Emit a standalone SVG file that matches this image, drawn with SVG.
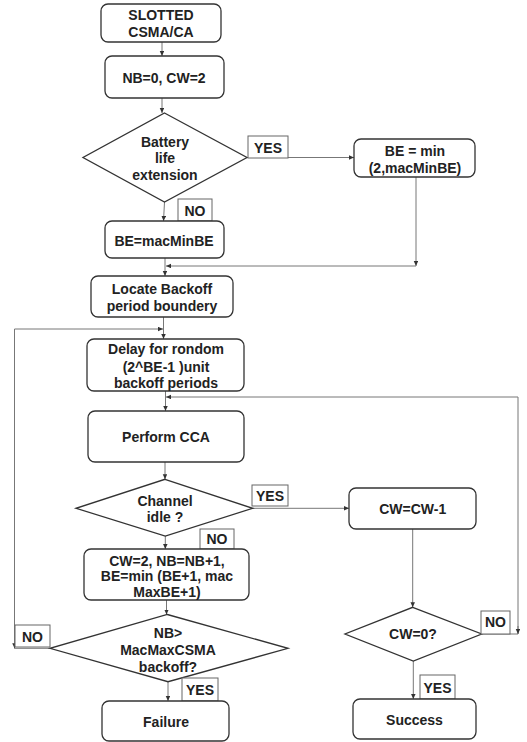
<svg xmlns="http://www.w3.org/2000/svg" width="527" height="742" viewBox="0 0 527 742">
<defs>
<style>
.box{fill:#fff;stroke:#333;stroke-width:1.3}
.lbl{fill:#fff;stroke:#666;stroke-width:1}
.dia{fill:#fff;stroke:#333;stroke-width:1.3}
.conn{fill:none;stroke:#777;stroke-width:1}
text{font-family:"Liberation Sans",Arial,sans-serif;font-weight:bold;font-size:14px;fill:#222;text-anchor:middle}
</style>
<marker id="ah" markerUnits="userSpaceOnUse" markerWidth="6" markerHeight="5" refX="5" refY="2.25" orient="auto">
<path d="M0,0 L5,2.25 L0,4.5 z" fill="#333"/>
</marker>
</defs>
<rect width="527" height="742" fill="#fff"/>
<g id="connectors">
<path class="conn" d="M162,42 V56" marker-end="url(#ah)"/>
<path class="conn" d="M162,98 V113" marker-end="url(#ah)"/>
<path class="conn" d="M247,157.5 H354" marker-end="url(#ah)"/>
<path class="conn" d="M416,177 V266" marker-end="url(#ah)"/>
<path class="conn" d="M416,266 H166" marker-end="url(#ah)"/>
<path class="conn" d="M164.5,202 L163.5,221" marker-end="url(#ah)"/>
<path class="conn" d="M165,258 V276" marker-end="url(#ah)"/>
<path class="conn" d="M163.5,317 V339" marker-end="url(#ah)"/>
<path class="conn" d="M50,648.3 H14.5 V329 H163" marker-end="url(#ah)"/>
<path class="conn" d="M14.5,640 V648.3" marker-end="url(#ah)"/>
<path class="conn" d="M165.5,391 V411" marker-end="url(#ah)"/>
<path class="conn" d="M481.7,634 H518 V397 H166" marker-end="url(#ah)"/>
<path class="conn" d="M518,626 V634" marker-end="url(#ah)"/>
<path class="conn" d="M165,462 V479.3" marker-end="url(#ah)"/>
<path class="conn" d="M252.7,508.3 H349" marker-end="url(#ah)"/>
<path class="conn" d="M165.3,536 V549" marker-end="url(#ah)"/>
<path class="conn" d="M166.5,600 V614.5" marker-end="url(#ah)"/>
<path class="conn" d="M168,681.7 V701" marker-end="url(#ah)"/>
<path class="conn" d="M412.7,529 V607.3" marker-end="url(#ah)"/>
<path class="conn" d="M413.3,661 V699" marker-end="url(#ah)"/>
</g>
<g id="start">
<rect class="box" x="101" y="4" width="120" height="38" rx="7"/>
<text x="161" y="20">SLOTTED</text>
<text x="161" y="37">CSMA/CA</text>
</g>
<g id="init">
<rect class="box" x="105" y="56" width="119" height="42" rx="7"/>
<text x="164" y="82.5">NB=0, CW=2</text>
</g>
<g id="battery">
<polygon class="dia" points="164.5,113 247,157.5 164.5,202 83,157.5"/>
<text x="165" y="146.5">Battery</text>
<text x="165" y="163">life</text>
<text x="165" y="180">extension</text>
</g>
<g id="yes1">
<rect class="lbl" x="248" y="136" width="40" height="22"/>
<text x="268" y="152.5">YES</text>
</g>
<g id="bemin">
<rect class="box" x="354" y="139" width="121" height="38" rx="7"/>
<text x="415" y="155.5">BE = min</text>
<text x="415" y="173">(2,macMinBE)</text>
</g>
<g id="no1">
<rect class="lbl" x="178" y="199" width="34" height="22"/>
<text x="195" y="215.5">NO</text>
</g>
<g id="bemac">
<rect class="box" x="105" y="221" width="119" height="37" rx="7"/>
<text x="164" y="245.5">BE=macMinBE</text>
</g>
<g id="locate">
<rect class="box" x="91" y="276" width="142" height="41" rx="7"/>
<text x="162" y="294">Locate Backoff</text>
<text x="162" y="311">period boundery</text>
</g>
<g id="delay">
<rect class="box" x="87" y="339" width="157" height="52" rx="7"/>
<text x="166" y="354">Delay for rondom</text>
<text x="166" y="371.5">(2^BE-1 )unit</text>
<text x="166" y="388">backoff periods</text>
</g>
<g id="cca">
<rect class="box" x="88" y="411" width="156" height="51" rx="7"/>
<text x="166" y="442">Perform CCA</text>
</g>
<g id="channel">
<polygon class="dia" points="165,479.3 252.7,508.3 165.3,536 76,508.3"/>
<text x="165" y="506">Channel</text>
<text x="165" y="522">idle ?</text>
</g>
<g id="yes2">
<rect class="lbl" x="252" y="485" width="36" height="21"/>
<text x="270" y="501">YES</text>
</g>
<g id="cwdec">
<rect class="box" x="349" y="488" width="127" height="41" rx="7"/>
<text x="412.7" y="514">CW=CW-1</text>
</g>
<g id="no2">
<rect class="lbl" x="200" y="529" width="34" height="20"/>
<text x="217" y="543.5">NO</text>
</g>
<g id="reset">
<rect class="box" x="84" y="549" width="165" height="51" rx="7"/>
<text x="167" y="565.5">CW=2, NB=NB+1,</text>
<text x="167" y="581">BE=min (BE+1, mac</text>
<text x="167" y="597">MaxBE+1)</text>
</g>
<g id="nbcheck">
<polygon class="dia" points="167.3,614.5 288,648.3 168,681.7 50,648.3"/>
<text x="168" y="637.5">NB&gt;</text>
<text x="168" y="655">MacMaxCSMA</text>
<text x="168" y="671.5">backoff?</text>
</g>
<g id="no3">
<rect class="lbl" x="15" y="625" width="35" height="22"/>
<text x="32.5" y="641.5">NO</text>
</g>
<g id="yes3">
<rect class="lbl" x="182" y="678" width="36" height="23"/>
<text x="200" y="694.5">YES</text>
</g>
<g id="failure">
<rect class="box" x="102" y="701" width="127" height="40" rx="7"/>
<text x="166" y="726.5">Failure</text>
</g>
<g id="cwzero">
<polygon class="dia" points="412.7,607.3 481.7,634 413.3,661 345,634"/>
<text x="413" y="639">CW=0?</text>
</g>
<g id="no4">
<rect class="lbl" x="481" y="611" width="29" height="23"/>
<text x="495.5" y="627">NO</text>
</g>
<g id="yes4">
<rect class="lbl" x="420" y="675" width="35" height="24"/>
<text x="437.5" y="693">YES</text>
</g>
<g id="success">
<rect class="box" x="353" y="699" width="123" height="40" rx="7"/>
<text x="414.5" y="725">Success</text>
</g>
</svg>
